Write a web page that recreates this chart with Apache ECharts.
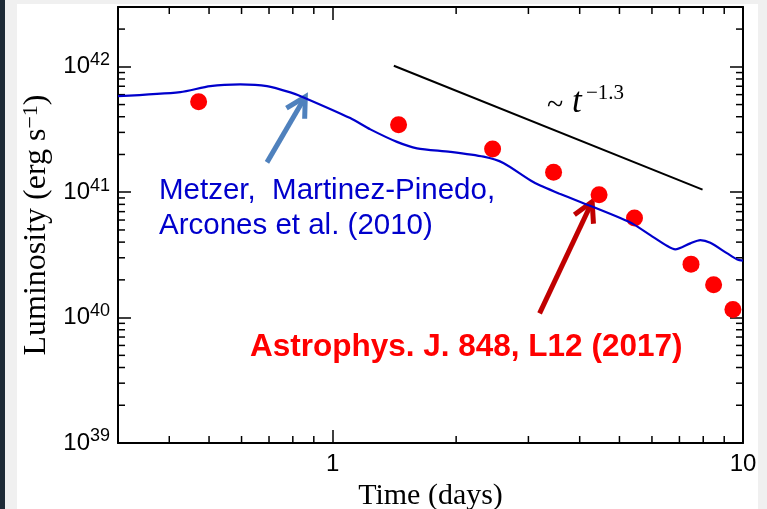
<!DOCTYPE html>
<html>
<head>
<meta charset="utf-8">
<script src="https://cdn.jsdelivr.net/npm/echarts@6/dist/echarts.min.js"></script>
<style>
  html, body { margin: 0; padding: 0; width: 767px; height: 509px; overflow: hidden; background: #f0f0f0; }
  #strip { position: absolute; left: 0; top: 0; width: 5px; height: 509px; background: #1d2a36; }
  #panel { position: absolute; left: 17px; top: 4px; width: 741px; height: 505px; background: #fff; }
  #chart { position: absolute; left: 0; top: 0; width: 767px; height: 509px; }
</style>
</head>
<body>
<div id="strip"></div>
<div id="panel"></div>
<div id="chart"></div>
<script>
// model light curve (Metzger et al. 2010), time in days / luminosity in erg/s
var modelTime = [0.30, 0.4255, 0.5035, 0.5956, 0.692, 0.789, 0.850, 1.104, 1.236, 1.435, 1.606, 1.936, 2.333, 2.606,
                 3.083, 3.588, 4.317, 5.023, 5.404, 5.945, 6.541, 6.839, 7.44, 7.87, 8.324, 9.157, 9.685, 10.0];
var modelLum = [5.84e41, 6.29e41, 7.02e41, 7.24e41, 7.02e41, 6.25e41, 5.70e41, 3.90e41, 3.17e41, 2.52e41, 2.24e41, 2.10e41, 1.92e41, 1.71e41,
                1.205e41, 9.66e40, 7.61e40, 6.22e40, 5.57e40, 4.55e40, 3.72e40, 3.50e40, 3.91e40, 4.15e40, 3.95e40, 3.25e40, 2.91e40, 2.85e40];

// observed points (ApJ 848, L12)
var obsTime = [0.4716, 1.448, 2.454, 3.455, 4.46, 5.44, 7.47, 8.48, 9.45];
var obsLum = [5.26e41, 3.45e41, 2.21e41, 1.44e41, 9.54e40, 6.22e40, 2.67e40, 1.83e40, 1.16e40];

// ~ t^-1.3 guide line end points
var guideTime = [1.41, 7.97];
var guideLum = [1.02e42, 1.05e41];

// arrows: [tailTime, tailLum, tipTime, tipLum]
var blueArrow = [0.692, 1.73e41, 0.858, 5.77e41];
var redArrow = [3.194, 1.08e40, 4.29, 8.39e40];

var xMinorTicks = [0.4, 0.5, 0.6, 0.7, 0.8, 0.9, 2, 3, 4, 5, 6, 7, 8, 9];
var yMinorTicks = [2e39, 3e39, 4e39, 5e39, 6e39, 7e39, 8e39, 9e39,
                   2e40, 3e40, 4e40, 5e40, 6e40, 7e40, 8e40, 9e40,
                   2e41, 3e41, 4e41, 5e41, 6e41, 7e41, 8e41, 9e41, 2e42];

var xMin = 0.3, xMax = 10, yMin = 1e39, yMax = 3e42;

var SANS = '"Liberation Sans", Arial, sans-serif';
var SERIF = '"Liberation Serif", "Times New Roman", serif';

function isDecade(v) {
  var e = Math.log10(v);
  return Math.abs(e - Math.round(e)) < 0.01;
}

function xAxisCfg(pos, labels) {
  return {
    type: 'log', logBase: 10, min: xMin, max: xMax, position: pos,
    axisLine: { show: true, onZero: false, lineStyle: { color: '#000', width: 2 } },
    axisTick: { show: true, inside: true, length: 13, lineStyle: { color: '#000', width: 1.5 } },
    splitLine: { show: false },
    axisLabel: {
      show: labels, margin: 9, color: '#000', fontFamily: SANS, fontSize: 24,
      formatter: function (v) { return isDecade(v) ? String(Math.round(v)) : ''; }
    }
  };
}

function yAxisCfg(pos, labels) {
  return {
    type: 'log', logBase: 10, min: yMin, max: yMax, position: pos,
    axisLine: { show: true, onZero: false, lineStyle: { color: '#000', width: 2 } },
    axisTick: { show: true, inside: true, length: 13, lineStyle: { color: '#000', width: 1.5 } },
    splitLine: { show: false },
    axisLabel: {
      show: labels, margin: 8, color: '#000', fontFamily: SANS,
      formatter: function (v) {
        if (!isDecade(v)) return '';
        return '{b|10}{s|' + Math.round(Math.log10(v)) + '}';
      },
      rich: {
        b: { fontFamily: SANS, fontSize: 24, color: '#000', lineHeight: 31 },
        s: { fontFamily: SANS, fontSize: 18, color: '#000', verticalAlign: 'top', lineHeight: 18 }
      }
    }
  };
}

var xBottom = xAxisCfg('bottom', true);
xBottom.name = 'Time (days)';
xBottom.nameLocation = 'middle';
xBottom.nameGap = 32;
xBottom.nameTextStyle = { fontFamily: SERIF, fontSize: 30, color: '#000' };

var yLeft = yAxisCfg('left', true);
yLeft.name = 'Luminosity (erg s{sup|\u22121})';
yLeft.nameLocation = 'middle';
yLeft.nameGap = 65;
yLeft.nameTextStyle = {
  fontFamily: SERIF, fontSize: 32, color: '#000',
  rich: { sup: { fontFamily: SERIF, fontSize: 22, color: '#000', verticalAlign: 'top', lineHeight: 22 } }
};

function renderXMinor(params, api) {
  var cs = params.coordSys;
  var px = api.coord([api.value(0), yMin])[0];
  var st = { stroke: '#000', lineWidth: 1.5 };
  return { type: 'group', children: [
    { type: 'line', shape: { x1: px, y1: cs.y + cs.height, x2: px, y2: cs.y + cs.height - 7 }, style: st },
    { type: 'line', shape: { x1: px, y1: cs.y, x2: px, y2: cs.y + 7 }, style: st }
  ] };
}

function renderYMinor(params, api) {
  var cs = params.coordSys;
  var py = api.coord([xMin, api.value(1)])[1];
  var st = { stroke: '#000', lineWidth: 1.5 };
  return { type: 'group', children: [
    { type: 'line', shape: { x1: cs.x, y1: py, x2: cs.x + 7, y2: py }, style: st },
    { type: 'line', shape: { x1: cs.x + cs.width, y1: py, x2: cs.x + cs.width - 7, y2: py }, style: st }
  ] };
}

function renderArrow(params, api) {
  var a = api.coord([api.value(0), api.value(1)]);
  var b = api.coord([api.value(2), api.value(3)]);
  var ang = Math.atan2(b[1] - a[1], b[0] - a[0]);
  var len = 22, spread = 0.5;
  var l = [b[0] - len * Math.cos(ang - spread), b[1] - len * Math.sin(ang - spread)];
  var r = [b[0] - len * Math.cos(ang + spread), b[1] - len * Math.sin(ang + spread)];
  var st = { stroke: api.visual('color'), lineWidth: 5, fill: null };
  return { type: 'group', children: [
    { type: 'line', shape: { x1: a[0], y1: a[1], x2: b[0], y2: b[1] }, style: st },
    { type: 'polyline', shape: { points: [l, b, r] }, style: st }
  ] };
}

function pairs(xs, ys) {
  return xs.map(function (x, i) { return [x, ys[i]]; });
}

var chart = echarts.init(document.getElementById('chart'));
chart.setOption({
  animation: false,
  backgroundColor: 'transparent',
  grid: { left: 118, right: 24, top: 7, bottom: 66, containLabel: false, outerBoundsMode: 'none' },
  xAxis: [xBottom, xAxisCfg('top', false)],
  yAxis: [yLeft, yAxisCfg('right', false)],
  series: [
    { type: 'custom', silent: true, renderItem: renderXMinor, clip: false,
      data: xMinorTicks.map(function (v) { return [v, yMin]; }) },
    { type: 'custom', silent: true, renderItem: renderYMinor, clip: false,
      data: yMinorTicks.map(function (v) { return [xMin, v]; }) },
    { type: 'line', data: pairs(modelTime, modelLum), showSymbol: false, smooth: 0.25,
      lineStyle: { color: '#0000cc', width: 2.2 }, itemStyle: { color: '#0000cc' } },
    { type: 'line', data: pairs(guideTime, guideLum), showSymbol: false,
      lineStyle: { color: '#000', width: 2 }, itemStyle: { color: '#000' } },
    { type: 'scatter', data: pairs(obsTime, obsLum), symbolSize: 17,
      itemStyle: { color: '#ff0000', opacity: 1 } },
    { type: 'custom', silent: true, renderItem: renderArrow, itemStyle: { color: '#4f81bd' },
      encode: { x: [0, 2], y: [1, 3] }, data: [blueArrow] },
    { type: 'custom', silent: true, renderItem: renderArrow, itemStyle: { color: '#c00000' },
      encode: { x: [0, 2], y: [1, 3] }, data: [redArrow] }
  ],
  graphic: [
    { type: 'text', x: 547, y: 106, style: {
        text: '~', fontFamily: SERIF, fontSize: 30, fill: '#000', verticalAlign: 'middle' } },
    { type: 'text', x: 572, y: 103, style: {
        text: 't', fontFamily: SERIF, fontSize: 35, fontStyle: 'italic', fill: '#000', verticalAlign: 'middle' } },
    { type: 'text', x: 586, y: 93, style: {
        text: '\u22121.3', fontFamily: SERIF, fontSize: 21, fill: '#000', verticalAlign: 'middle' } },
    { type: 'text', x: 159, y: 191, style: {
        text: 'Metzer,  Martinez-Pinedo,', fontFamily: SANS, fontSize: 29.5, fill: '#0000cc', verticalAlign: 'middle' } },
    { type: 'text', x: 159, y: 226, style: {
        text: 'Arcones et al. (2010)', fontFamily: SANS, fontSize: 29.5, fill: '#0000cc', verticalAlign: 'middle' } },
    { type: 'text', x: 250, y: 347, style: {
        text: 'Astrophys. J. 848, L12 (2017)', fontFamily: SANS, fontSize: 31.5, fontWeight: 'bold',
        fill: '#ff0000', verticalAlign: 'middle' } }
  ]
});
</script>
</body>
</html>
